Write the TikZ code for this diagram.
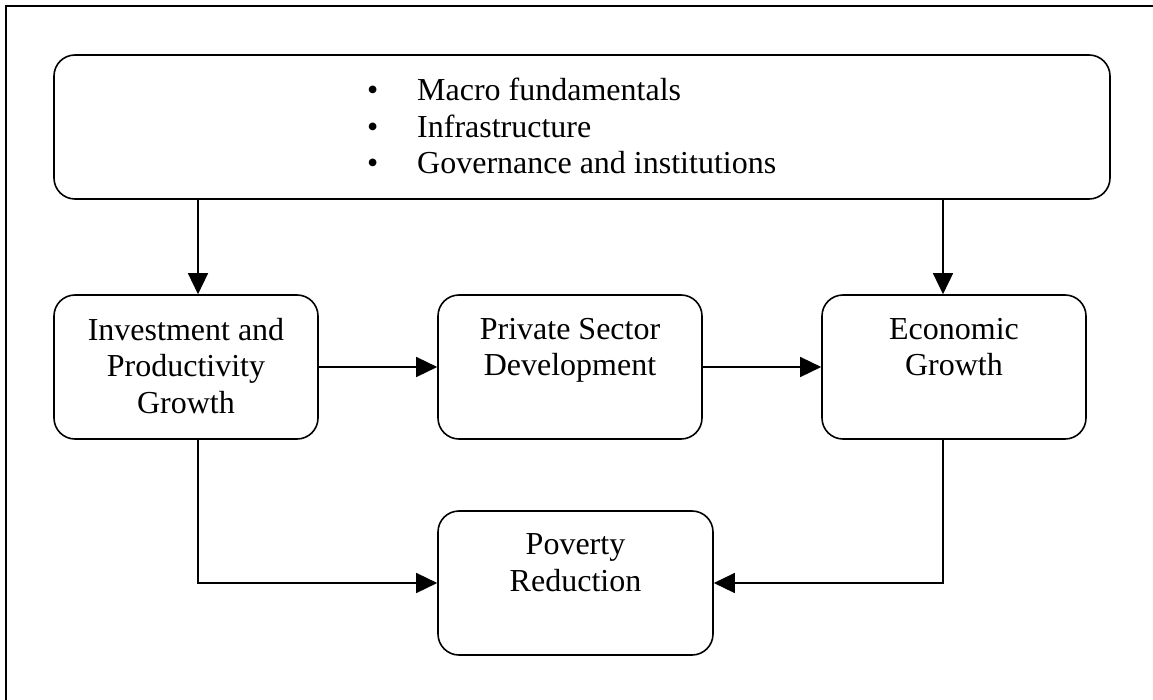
\documentclass[tikz,border=0pt]{standalone}
\usepackage{fontspec}
\setmainfont{Liberation Serif}
\usetikzlibrary{arrows.meta}
\begin{document}
\begin{tikzpicture}[x=1pt,y=-1pt,
  fbox/.style={draw,line width=1.6pt,rounded corners=21pt,inner sep=0pt,
    minimum width=264pt,minimum height=144pt},
  lbl/.style={anchor=north,inner sep=0pt,align=center,
    font=\fontsize{32}{36.8}\selectfont},
  arr/.style={line width=1.4pt,-{Triangle[length=21pt,width=20pt]}},
  link/.style={line width=1.4pt}]
  \useasboundingbox (0,0) rectangle (1153,700);
  % page frame (top and left edges)
  \draw[line width=2pt] (6,700) -- (6,6.5) -- (1153,6.5);

  % boxes
  \node[fbox,minimum width=1056pt] (top) at (582,127) {};
  \node[fbox] (inv)  at (186,367) {};
  \node[fbox] (priv) at (570,367) {};
  \node[fbox] (econ) at (954,367) {};
  \node[fbox,minimum width=275pt] (pov) at (575.5,583) {};

  % labels
  \node[lbl,anchor=north west,align=left] (topt) at (367,77.6)
    {\makebox[50pt][l]{•}Macro fundamentals\\
     \makebox[50pt][l]{•}Infrastructure\\
     \makebox[50pt][l]{•}Governance and institutions};
  \node[lbl] (invt)  at ([yshift=-23.5pt]inv.north)  {Investment and\\Productivity\\Growth};
  \node[lbl] (privt) at ([yshift=-23.5pt]priv.north) {Private Sector\\Development};
  \node[lbl] (econt) at ([yshift=-23.5pt]econ.north) {Economic\\Growth};
  \node[lbl] (povt)  at ([yshift=-23.5pt]pov.north)  {Poverty\\Reduction};

  % connector columns
  \coordinate (xa) at (198,0);
  \coordinate (xb) at (943,0);

  \draw[arr] (top.south -| xa) -- (inv.north -| xa);
  \draw[arr] (top.south -| xb) -- (econ.north -| xb);
  \draw[arr] (inv.east) -- (priv.west);
  \draw[arr] (priv.east) -- (econ.west);
  \draw[arr] (inv.south -| xa) |- (pov.west);
  \draw[arr] (econ.south -| xb) |- (pov.east);
\end{tikzpicture}
\end{document}
